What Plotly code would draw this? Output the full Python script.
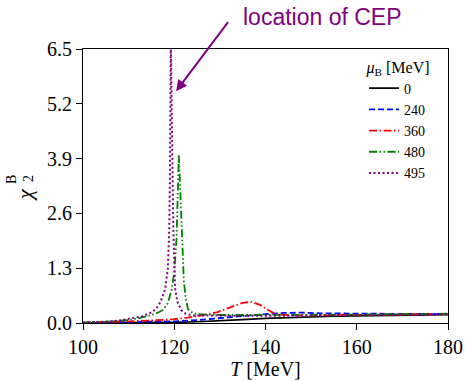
import plotly.graph_objects as go

# ---- data ----
T_0 = [100, 110, 120, 125, 130, 135, 140, 145, 150, 155, 160, 170, 180]
chi_0 = [0.002, 0.006, 0.015, 0.03, 0.05, 0.08, 0.11, 0.13, 0.145, 0.16, 0.17, 0.185, 0.195]

T_240 = [100, 110, 115, 120, 125, 130, 135, 140, 144, 148, 152, 160, 170, 180]
chi_240 = [0.005, 0.015, 0.025, 0.04, 0.07, 0.12, 0.16, 0.21, 0.24, 0.245, 0.23, 0.22, 0.215, 0.215]

T_360 = [100, 105, 110, 115, 120, 123, 126, 129.5, 133, 135, 137, 138.8, 140.6, 141.7, 143, 146, 150, 160, 170, 180]
chi_360 = [0.01, 0.02, 0.04, 0.06, 0.09, 0.13, 0.18, 0.26, 0.40, 0.48, 0.50, 0.43, 0.31, 0.24, 0.20, 0.18, 0.18, 0.19, 0.20, 0.21]

T_480 = [100, 105, 110, 112.5, 115, 116.5, 117.5, 118.6, 119.4, 120.0, 120.5, 120.8, 121.0,
         121.3, 121.8, 122.1, 122.5, 123.0, 124, 125, 127, 130, 140, 150, 160, 170, 180]
chi_480 = [0.01, 0.03, 0.07, 0.12, 0.19, 0.25, 0.31, 0.47, 0.78, 1.2, 2.0, 3.0, 4.0,
           3.2, 2.0, 1.0, 0.6, 0.33, 0.24, 0.21, 0.20, 0.19, 0.19, 0.19, 0.20, 0.21, 0.22]

T_495 = [100, 105, 108, 111, 113, 115, 116, 117, 118, 118.6, 118.9, 119.05, 119.15, 119.25,
         119.45, 119.6, 119.8, 120.2, 120.7, 121.6, 122.5, 124, 130, 140, 150, 160, 170, 180]
chi_495 = [0.01, 0.03, 0.06, 0.11, 0.16, 0.25, 0.33, 0.5, 0.8, 1.3, 2.2, 3.5, 5.0, 6.7,
           5.0, 3.5, 2.2, 0.8, 0.5, 0.3, 0.22, 0.18, 0.17, 0.17, 0.18, 0.19, 0.20, 0.21]

series = [
    ("0", T_0, chi_0, "black", "solid", 1.6),
    ("240", T_240, chi_240, "blue", "6px,3px", 1.8),
    ("360", T_360, chi_360, "red", "8px,2.5px,1.5px,2.5px", 1.8),
    ("480", T_480, chi_480, "green", "8px,2.5px,1.5px,2.5px,1.5px,2.5px", 1.8),
    ("495", T_495, chi_495, "purple", "2px,2.5px", 2.0),
]

x_ticks = [100, 120, 140, 160, 180]
y_ticks = [0.0, 1.3, 2.6, 3.9, 5.2, 6.5]

fig = go.Figure()
for name, xs, ys, col, dash, w in series:
    fig.add_trace(go.Scatter(x=xs, y=ys, mode="lines", name=name,
                             line=dict(color=col, dash=dash, width=w)))

serif = "Liberation Serif, Times New Roman, serif"
axis_common = dict(showgrid=False, zeroline=False, showline=True, linecolor="black",
                   linewidth=1.2, mirror=True, ticks="outside", ticklen=6,
                   tickwidth=1.2, tickcolor="black", automargin=False,
                   tickfont=dict(family=serif, size=20, color="black"))

fig.update_layout(
    width=465, height=381,
    margin=dict(l=83, r=17, t=49, b=58),
    paper_bgcolor="white", plot_bgcolor="white",
    font=dict(family=serif, color="black"),
    showlegend=True,
    legend=dict(x=0.77, y=0.99, xanchor="left", yanchor="top",
                bgcolor="rgba(0,0,0,0)", borderwidth=0,
                font=dict(family=serif, size=14, color="black"),
                title=dict(text="<i>μ</i><sub>B</sub> [MeV]", side="top center",
                           font=dict(family=serif, size=16, color="black")),
                itemwidth=30, tracegroupgap=0),
    xaxis=dict(range=[100, 180], tickvals=x_ticks,
               ticktext=[str(v) for v in x_ticks],
               title=dict(text="<i>T</i> [MeV]", font=dict(family=serif, size=20, color="black"),
                          standoff=0),
               **axis_common),
    yaxis=dict(range=[0, 6.5], tickvals=y_ticks,
               ticktext=[f"{v:.1f}" for v in y_ticks],
               **axis_common),
)

# y-axis label chi_2^B built from pieces (pixel positions converted to paper coords)
ylab_parts = [("<i>χ</i>", 24, 195, 22), ("B", 11, 180, 14), ("2", 28, 179, 14)]
for txt, px, py, fs in ylab_parts:
    fig.add_annotation(text=txt, xref="paper", yref="paper",
                       x=(px - 83) / 365, y=(323 - py) / 274,
                       xanchor="center", yanchor="middle", showarrow=False,
                       textangle=-90, font=dict(family=serif, size=fs, color="black"))

# CEP arrow and text
fig.add_annotation(x=120.4, y=5.5, xref="x", yref="y", text=" ", showarrow=True,
                   ax=55, ay=-73, arrowhead=2, arrowsize=1.1, arrowwidth=2,
                   arrowcolor="#800080", standoff=0, startstandoff=0)
fig.add_annotation(text="location of CEP", xref="paper", yref="paper",
                   x=(241 - 83) / 365, y=(323 - 17) / 274, xanchor="left", yanchor="middle",
                   showarrow=False,
                   font=dict(family="Liberation Sans", size=23, color="#800080"))

fig.write_html("out.html")
